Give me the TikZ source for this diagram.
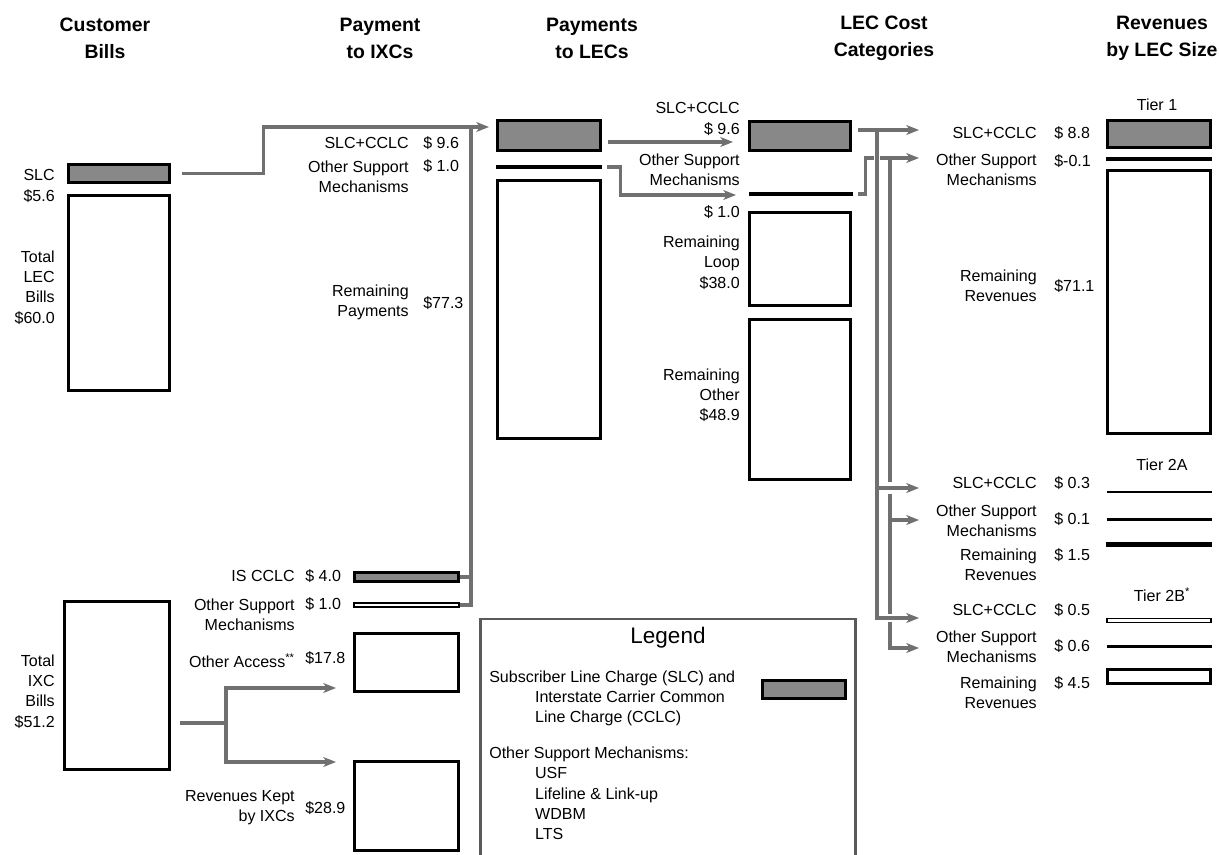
\documentclass[tikz,border=0pt]{standalone}
\usepackage{fontspec}
\setmainfont{Liberation Sans}
\usetikzlibrary{arrows.meta, calc}

\definecolor{flowgray}{RGB}{112,112,112}
\definecolor{sharegray}{RGB}{136,136,136}
\definecolor{framegray}{RGB}{90,90,90}
\newcommand{\lblfont}{\fontsize{11.4pt}{14.4pt}\selectfont}
\newcommand{\hdrfont}{\fontsize{13.8pt}{19pt}\selectfont\bfseries}

\begin{document}
\begin{tikzpicture}[
    x=0.025cm, y=-0.025cm,
    hdr/.style={font=\hdrfont, align=center, inner sep=0pt},
    lbl/.style={font=\lblfont, align=right, anchor=east, inner sep=0pt},
    val/.style={font=\lblfont, anchor=west, inner sep=0pt},
    tier/.style={font=\lblfont, inner sep=0pt},
    sz/.style 2 args={minimum width=#1*0.025cm, minimum height=#2*0.025cm},
    box/.style={draw=black, line width=2.1pt, fill=white, inner sep=0pt},
    sharebox/.style={box, fill=sharegray},
    slimbox/.style={draw=black, line width=1.1pt, fill=white, inner sep=0pt},
    barline/.style 2 args={fill=black, inner sep=0pt,
        minimum width=#1*0.025cm, minimum height=#2*0.025cm},
    flow/.style={draw=flowgray, line width=2.2pt},
    flowarrow/.style={flow, -{Stealth[length=9pt,width=7pt,inset=2.5pt]}},
    gap/.style={draw=white, line width=9pt},
]
\useasboundingbox (0,0) rectangle (1219,855);
\clip (0,0) rectangle (1219,855);

% Column headers
\node[hdr] (hCust) at (105,38.5) {Customer\\Bills};
\node[hdr] (hIxc)  at (380,38.5) {Payment\\to IXCs};
\node[hdr] (hLec)  at (592,38.5) {Payments\\to LECs};
\node[hdr] (hCost) at (884,38.5) {LEC Cost\\Categories};
\node[hdr] (hSize) at (1162,38.5) {Revenues\\by LEC Size};

% Customer bills
\node[sharebox, sz={101}{18}] (slcBox) at (119,173.5) {};
\node[box, sz={101}{195}] (lecBill) at (119,293) {};
\node[box, sz={105}{168}] (ixcBill) at (117,685.5) {};
\node[lbl] (lSlcBill) at (55,186) {SLC\\\$5.6};
\node[lbl] (lLecBill) at (55,287.5) {Total\\LEC\\Bills\\\$60.0};
\node[lbl] (lIxcBill) at (55,691.5) {Total\\IXC\\Bills\\\$51.2};

% Payment to IXCs
\node[sharebox, sz={104}{9}] (isBar) at (406.5,577) {};
\node[slimbox, sz={105}{4.5}] (ospBar) at (406.5,605) {};
\node[box, sz={104}{58}] (accessBox) at (406.5,662.5) {};
\node[box, sz={104}{89}] (keptBox) at (406.5,806) {};

\node[lbl] (lPaySlc) at (409,143) {SLC+CCLC};
\node[val] (vPaySlc) at (423,143) {\$ 9.6};
\node[lbl] (lPayOsp) at (409,176.5) {Other Support\\Mechanisms};
\node[val] (vPayOsp) at (423,166) {\$ 1.0};
\node[lbl] (lPayRem) at (409,302) {Remaining\\Payments};
\node[val] (vPayRem) at (423,303) {\$77.3};
\node[lbl] (lIsCclc) at (295,576) {IS CCLC};
\node[val] (vIsCclc) at (305,576) {\$ 4.0};
\node[lbl] (lIxcOsp) at (295,614.5) {Other Support\\Mechanisms};
\node[val] (vIxcOsp) at (305,604) {\$ 1.0};
\node[lbl] (lAccess) at (295,661) {Other Access\textsuperscript{**}};
\node[val] (vAccess) at (305,658) {\$17.8};
\node[lbl] (lKept) at (295,808) {Revenues Kept\\by IXCs};
\node[val] (vKept) at (305,808) {\$28.9};

% Payments to LECs
\node[sharebox, sz={103}{30}] (lecSlc) at (549,135.5) {};
\node[barline={106}{3.5}] (lecOsp) at (549,167) {};
\node[box, sz={103}{258}] (lecRem) at (549,309.5) {};

% LEC cost categories
\node[sharebox, sz={101}{29}] (costSlc) at (800,136) {};
\node[barline={104}{3.5}] (costOsp) at (801,194) {};
\node[box, sz={101}{93}] (costLoop) at (800,259) {};
\node[box, sz={101}{160}] (costOther) at (800,399.5) {};

\node[lbl] (lLecSlc) at (740,119) {SLC+CCLC\\\$ 9.6};
\node[lbl] (lLecOsp) at (740,169.5) {Other Support\\Mechanisms};
\node[lbl] (vLecOsp) at (740,212) {\$ 1.0};
\node[lbl] (lLoop) at (740,262.5) {Remaining\\Loop\\\$38.0};
\node[lbl] (lOther) at (740,395) {Remaining\\Other\\\$48.9};

% Revenues by LEC size
\node[tier] (tier1) at (1157,105) {Tier 1};
\node[sharebox, sz={103}{27}] (t1Slc) at (1159,134) {};
\node[barline={106}{3.5}] (t1Osp) at (1159,159) {};
\node[box, sz={103}{263}] (t1Rem) at (1159,302) {};
\node[lbl] (lT1Slc) at (1037,133) {SLC+CCLC};
\node[val] (vT1Slc) at (1054,133) {\$ 8.8};
\node[lbl] (lT1Osp) at (1037,170) {Other Support\\Mechanisms};
\node[val] (vT1Osp) at (1054,161) {\$-0.1};
\node[lbl] (lT1Rem) at (1037,285.5) {Remaining\\Revenues};
\node[val] (vT1Rem) at (1054,286) {\$71.1};

\node[tier] (tier2a) at (1162,465) {Tier 2A};
\node[barline={105}{1.3}] (t2aSlc) at (1159.5,492) {};
\node[barline={105}{3}] (t2aOsp) at (1159.5,519) {};
\node[barline={106}{5}] (t2aRem) at (1159,544) {};
\node[lbl] (lT2aSlc) at (1037,483) {SLC+CCLC};
\node[val] (vT2aSlc) at (1054,483) {\$ 0.3};
\node[lbl] (lT2aOsp) at (1037,521) {Other Support\\Mechanisms};
\node[val] (vT2aOsp) at (1054,519) {\$ 0.1};
\node[lbl] (lT2aRem) at (1037,565) {Remaining\\Revenues};
\node[val] (vT2aRem) at (1054,555) {\$ 1.5};

\node[tier] (tier2b) at (1162,595) {Tier 2B\textsuperscript{*}};
\node[slimbox, sz={104.5}{4}] (t2bSlc) at (1159,620.5) {};
\node[barline={105}{3}] (t2bOsp) at (1159.5,646) {};
\node[box, sz={103}{14}] (t2bRem) at (1159,676.5) {};
\node[lbl] (lT2bSlc) at (1037,610) {SLC+CCLC};
\node[val] (vT2bSlc) at (1054,610) {\$ 0.5};
\node[lbl] (lT2bOsp) at (1037,647) {Other Support\\Mechanisms};
\node[val] (vT2bOsp) at (1054,646) {\$ 0.6};
\node[lbl] (lT2bRem) at (1037,692.5) {Remaining\\Revenues};
\node[val] (vT2bRem) at (1054,683) {\$ 4.5};

% Legend
\node[draw=framegray, line width=1.8pt, inner sep=0pt, sz={375}{238}] (legendFrame) at (668,738) {};
\node[font=\fontsize{16pt}{18pt}\selectfont, inner sep=0pt] (legendTitle) at (668,638) {Legend};
\node[font=\lblfont, align=left, anchor=west, inner sep=0pt] (legendShare) at (489,698.5)
    {Subscriber Line Charge (SLC) and\\\hspace*{32.6pt}Interstate Carrier Common\\\hspace*{32.6pt}Line Charge (CCLC)};
\node[sharebox, sz={83}{18}] (legendKey) at (804,689.5) {};
\node[font=\lblfont, align=left, anchor=west, inner sep=0pt] (legendOsp) at (489,793.5)
    {Other Support Mechanisms:\\\hspace*{32.6pt}USF\\\hspace*{32.6pt}Lifeline \& Link-up\\\hspace*{32.6pt}WDBM\\\hspace*{32.6pt}LTS};

% Arrow ends and joints
\coordinate (tipLecIn) at (489,127);
\coordinate (isJoin) at (471,127);
\coordinate (ixcSplit) at (226,723);
\coordinate (tipAccess) at (336,688);
\coordinate (tipKept) at (336,762);
\coordinate (tipCostSlc) at (733,142);
\coordinate (tipCostOsp) at (736,195);
\coordinate (slcTrunk) at (877,130);
\coordinate (ospTrunk) at (890,158);
\coordinate (tipT1Slc) at (919,130);
\coordinate (tipT1Osp) at (919,158);
\coordinate (tipT2aSlc) at (919,488);
\coordinate (tipT2aOsp) at (919,520);
\coordinate (tipT2bSlc) at (919,618);
\coordinate (tipT2bOsp) at (919,648);

% Customer bills -> payments
\draw[flowarrow, shorten <=8pt] (slcBox.east) -- ++(92.5,0) |- (tipLecIn);
\draw[flow] (isBar.east) -- (isBar.east -| isJoin);
\draw[flow] (ospBar.east) -| (isJoin);
\draw[flow, shorten <=6.7pt] (ixcBill.east |- ixcSplit) -- (ixcSplit);
\draw[flowarrow] (ixcSplit) |- (tipAccess);
\draw[flowarrow] (ixcSplit) |- (tipKept);

% Payments to LECs -> cost categories
\draw[flowarrow, shorten <=4.6pt] (lecSlc.east |- tipCostSlc) -- (tipCostSlc);
\draw[flowarrow, shorten <=3.5pt] (lecOsp.east) -- ++(18,0) |- (tipCostOsp);

% Cost categories -> LEC size (other support first, SLC trunk over it)
\draw[flowarrow, shorten <=3pt] (costOsp.east) -- ++(12,0) |- (tipT1Osp);
\draw[flowarrow] (ospTrunk) |- (tipT2bOsp);
\draw[flowarrow] (ospTrunk |- tipT2aOsp) -- (tipT2aOsp);

\draw[gap, line width=4.5pt] ($(slcTrunk)+(0,14)$) -- (slcTrunk |- tipT2bSlc);
\draw[gap] (slcTrunk |- tipT2aSlc) -- (tipT2aSlc);
\draw[gap, line width=6pt] (slcTrunk |- tipT2bSlc) -- (tipT2bSlc);

\draw[flowarrow] (slcTrunk) |- (tipT2bSlc);
\draw[flowarrow] (slcTrunk |- tipT2aSlc) -- (tipT2aSlc);
\draw[flowarrow, shorten <=4.6pt] (costSlc.east |- tipT1Slc) -- (tipT1Slc);

\end{tikzpicture}
\end{document}
